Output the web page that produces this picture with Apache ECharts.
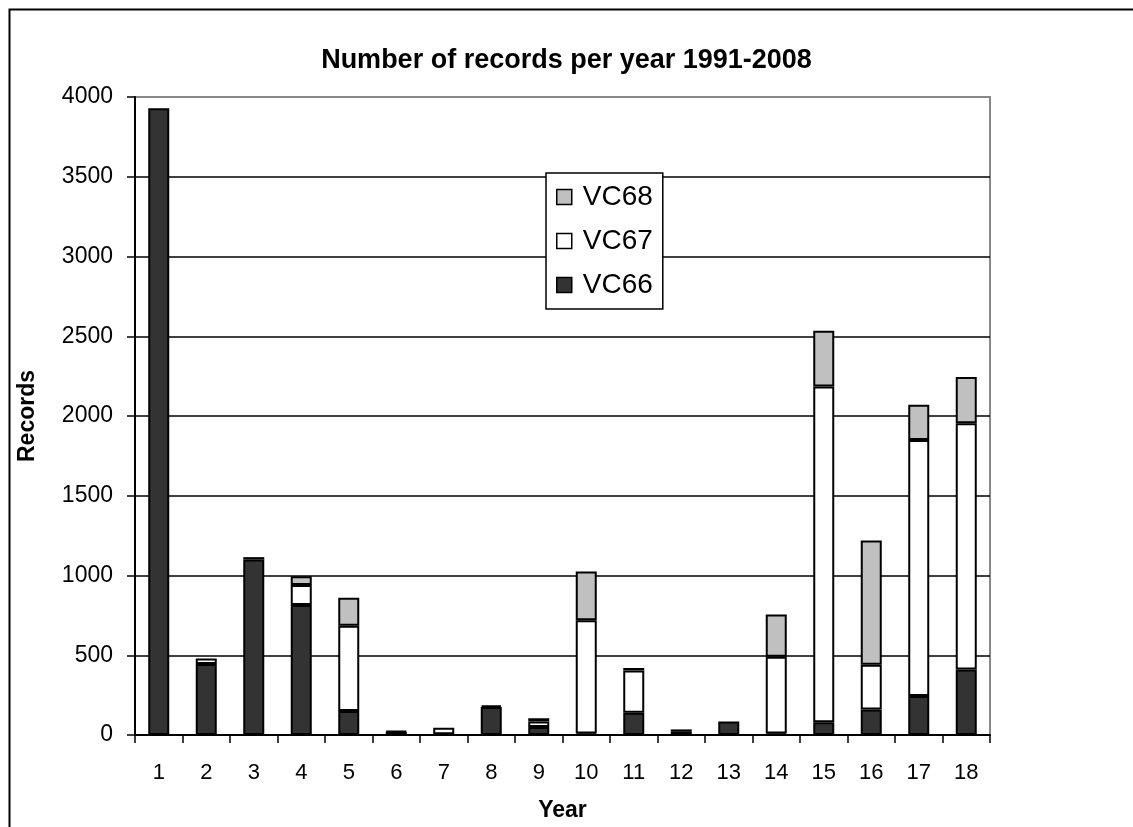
<!DOCTYPE html>
<html>
<head>
<meta charset="utf-8">
<script src="https://cdn.jsdelivr.net/npm/echarts@6/dist/echarts.min.js"></script>
<style>
html,body{margin:0;padding:0;background:#fff;}
#c{width:1133px;height:827px;}
</style>
</head>
<body>
<div id="c"></div>
<script>
const categories = ['1','2','3','4','5','6','7','8','9','10','11','12','13','14','15','16','17','18'];
const vc66 = [3930, 445, 1100, 815, 150, 20, 5, 175, 50, 10, 140, 5, 85, 10, 80, 160, 245, 410];
const vc67 = [0, 35, 15, 125, 535, 5, 40, 10, 35, 710, 265, 15, 0, 480, 2105, 280, 1605, 1545];
const vc68 = [0, 0, 0, 55, 175, 0, 0, 0, 20, 305, 15, 15, 0, 265, 350, 780, 220, 290];
const yTicks = [0, 500, 1000, 1500, 2000, 2500, 3000, 3500, 4000];

const FONT = '"Liberation Sans", Arial, sans-serif';
const chart = echarts.init(document.getElementById('c'), null, {renderer: 'canvas'});
const nz = a => a.map(v => (v === 0 ? null : v));
const barStyle = c => ({color: c, borderColor: '#000', borderWidth: 2});

chart.setOption({
  backgroundColor: '#fff',
  animation: false,
  textStyle: {fontFamily: FONT, color: '#000'},
  title: {
    text: 'Number of records per year 1991-2008',
    left: 'center', top: 42,
    textStyle: {fontFamily: FONT, fontSize: 27, fontWeight: 'bold', color: '#000'}
  },
  graphic: [{
    type: 'rect', left: 7, top: 7, silent: true,
    shape: {x: 0, y: 0, width: 1140, height: 840},
    style: {fill: null, stroke: '#000', lineWidth: 2}
  }],
  legend: {
    data: ['VC68', 'VC67', 'VC66'],
    orient: 'vertical',
    left: 546, top: 173,
    icon: 'rect',
    itemWidth: 15, itemHeight: 15,
    itemGap: 16,
    padding: [10, 10, 10, 10],
    backgroundColor: '#fff',
    borderColor: '#000', borderWidth: 1.5,
    itemStyle: {borderColor: '#000', borderWidth: 1.5},
    textStyle: {fontFamily: FONT, fontSize: 28, color: '#000', padding: [0, 0, 0, 6]}
  },
  grid: {
    left: 135, right: 143, top: 97, bottom: 91,
    show: true, borderColor: '#888', borderWidth: 2, backgroundColor: '#fff',
    containLabel: false
  },
  xAxis: {
    type: 'category',
    data: categories,
    boundaryGap: true,
    name: 'Year', nameLocation: 'middle', nameGap: 64,
    nameTextStyle: {fontFamily: FONT, fontSize: 23, fontWeight: 'bold', color: '#000'},
    axisLine: {lineStyle: {color: '#000', width: 2}},
    axisTick: {show: true, length: 8, alignWithLabel: false, lineStyle: {color: '#000', width: 1.5}},
    axisLabel: {fontFamily: FONT, fontSize: 22, color: '#000', margin: 27, interval: 0}
  },
  yAxis: {
    type: 'value',
    min: yTicks[0], max: yTicks[yTicks.length - 1], interval: 500,
    name: 'Records', nameLocation: 'middle', nameGap: 96,
    nameTextStyle: {fontFamily: FONT, fontSize: 23, fontWeight: 'bold', color: '#000'},
    axisLine: {show: true, lineStyle: {color: '#000', width: 2}},
    axisTick: {show: true, length: 8, lineStyle: {color: '#000', width: 1.5}},
    axisLabel: {fontFamily: FONT, fontSize: 23, color: '#000', margin: 22, formatter: v => String(v)},
    splitLine: {show: true, showMaxLine: false, showMinLine: false, lineStyle: {color: '#000', width: 1.5}}
  },
  series: [
    {name: 'VC66', type: 'bar', stack: 'rec', data: nz(vc66), barWidth: 21, itemStyle: barStyle('#333333')},
    {name: 'VC67', type: 'bar', stack: 'rec', data: nz(vc67), barWidth: 21, itemStyle: barStyle('#ffffff')},
    {name: 'VC68', type: 'bar', stack: 'rec', data: nz(vc68), barWidth: 21, itemStyle: barStyle('#c0c0c0')}
  ]
});
</script>
</body>
</html>
